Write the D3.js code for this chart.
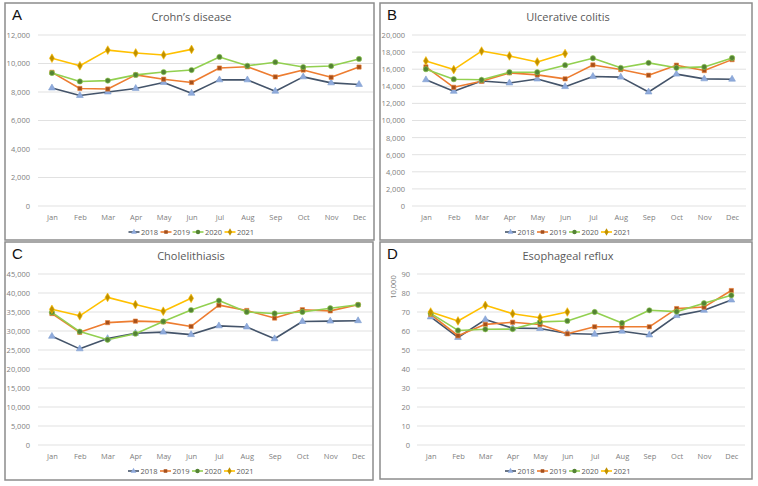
<!DOCTYPE html>
<html><head><meta charset="utf-8">
<script src="https://cdn.jsdelivr.net/npm/d3@7"></script>
<style>body{margin:0;background:#fff}svg{display:block}</style>
</head><body>
<svg id="c" width="758" height="486"></svg>
<script>
const months = ["Jan","Feb","Mar","Apr","May","Jun","Jul","Aug","Sep","Oct","Nov","Dec"];
const years = ["2018","2019","2020","2021"];

const crohn2018 = [8280,7750,8000,8250,8670,7910,8850,8850,8050,9060,8640,8530];
const crohn2019 = [9380,8250,8210,9200,8900,8670,9680,9770,9060,9540,9030,9750];
const crohn2020 = [9330,8740,8800,9200,9400,9540,10460,9840,10090,9750,9820,10320];
const crohn2021 = [10370,9840,10940,10740,10600,10990];

const uc2018 = [14760,13410,14620,14390,14850,13960,15150,15070,13330,15420,14870,14830];
const uc2019 = [16270,13880,14580,15570,15340,14870,16500,15960,15300,16470,15840,17120];
const uc2020 = [16000,14830,14760,15650,15650,16470,17280,16160,16740,16160,16270,17320];
const uc2021 = [16970,15960,18120,17550,16850,17830];

const chole2018 = [28600,25300,28000,29400,29700,29050,31350,31050,27950,32500,32600,32700];
const chole2019 = [34600,29650,32200,32600,32400,31200,36800,35400,33400,35600,35300,36900];
const chole2020 = [34900,29850,27700,29300,32500,35500,38000,35000,34600,35000,36000,36900];
const chole2021 = [35700,34000,38850,36950,35200,38600];

const reflux2018 = [67.4,56.6,66.0,61.5,61.3,58.7,58.3,59.9,57.9,68.1,70.9,76.3];
const reflux2019 = [68.8,57.5,63.5,64.6,63.4,58.5,62.2,62.2,62.2,71.8,72.6,81.3];
const reflux2020 = [69.3,60.3,60.9,61.0,64.8,65.3,70.0,64.2,70.9,70.2,74.6,78.8];
const reflux2021 = [70.0,65.3,73.5,69.1,67.0,70.0];

const panelLetters = ["A","B","C","D"];
const panelTitles = ["Crohn\u2019s disease","Ulcerative colitis","Cholelithiasis","Esophageal reflux"];
const yMax = [12000,20000,45000,90];
const yStep = [2000,2000,5000,10];
const panelData = [
  [crohn2018,crohn2019,crohn2020,crohn2021],
  [uc2018,uc2019,uc2020,uc2021],
  [chole2018,chole2019,chole2020,chole2021],
  [reflux2018,reflux2019,reflux2020,reflux2021]
];

// layout (positions only)
const layout = [
  {box:[5,3,369,237], plot:[38,35,373,206]},
  {box:[380,3,372,237], plot:[412,35,746,206]},
  {box:[5,242,368,238], plot:[38,274,372,445]},
  {box:[380,242,372,237], plot:[417,274,745,445]}
];
const lineColors = ["#44546A","#ED7D31","#92D050","#FFC000"];
const markColors = ["#8FAADC","#A5501C","#548235","#BF9000"];
const markTypes = [d3.symbolTriangle, d3.symbolSquare, d3.symbolCircle, d3.symbolDiamond];
const markSizes = [20,18,22,22];
const FONT = "'Open Sans', 'Noto Sans', sans-serif";

const svg = d3.select("#c");

panelData.forEach((series,i)=>{
  const L = layout[i];
  const g = svg.append("g");
  const [bx,by,bw,bh] = L.box;
  g.append("rect").attr("x",bx).attr("y",by).attr("width",bw).attr("height",bh)
    .attr("fill","#fff").attr("stroke","#8c8c8c").attr("stroke-width",1.5);
  const [x0,y0,x1,y1] = L.plot;
  const x = d3.scalePoint().domain(months).range([x0,x1]).padding(0.5);
  const y = d3.scaleLinear().domain([0,yMax[i]]).range([y1,y0]);
  const ticks = d3.range(0,yMax[i]+yStep[i]/2,yStep[i]);

  // gridlines
  g.append("g").selectAll("line").data(ticks).join("line")
    .attr("x1",x0).attr("x2",x1).attr("y1",d=>y(d)).attr("y2",d=>y(d))
    .attr("stroke","#d9d9d9").attr("stroke-width",0.8);

  // y axis labels
  const yAxis = d3.axisLeft(y).tickValues(ticks).tickSize(0).tickPadding(i%2===1? 7:8)
    .tickFormat(d3.format(","));
  const ya = g.append("g").attr("transform",`translate(${x0},0)`).call(yAxis);
  ya.select(".domain").remove();
  ya.selectAll("text").attr("font-family",FONT).attr("font-size",7.5).attr("fill","#808080");

  // x axis labels
  const xAxis = d3.axisBottom(x).tickSize(0).tickPadding(9);
  const xa = g.append("g").attr("transform",`translate(0,${y1})`).call(xAxis);
  xa.select(".domain").remove();
  xa.selectAll("text").attr("font-family",FONT).attr("font-size",7.5).attr("fill","#808080");

  // title & letter
  const cx = bx + bw/2 + 2;
  g.append("text").attr("x",cx).attr("y",by+18).attr("text-anchor","middle")
    .attr("font-family",FONT).attr("font-size",11).attr("fill","#595959").text(panelTitles[i]);
  g.append("text").attr("x",bx+7).attr("y",by+17)
    .attr("font-family","'Liberation Sans', Arial, sans-serif").attr("font-size",15).attr("fill","#111").text(panelLetters[i]);

  if(i===3){
    g.append("text").attr("transform",`translate(${bx+16},${y(80)-6}) rotate(-90)`)
      .attr("text-anchor","middle").attr("font-family",FONT).attr("font-size",7.5)
      .attr("fill","#808080").text("10,000");
  }

  // series
  const line = d3.line().x((d,k)=>x(months[k])).y(d=>y(d));
  series.forEach((vals,s)=>{
    g.append("path").datum(vals).attr("d",line).attr("fill","none")
      .attr("stroke",lineColors[s]).attr("stroke-width",1.6).attr("stroke-linejoin","round");
  });
  series.forEach((vals,s)=>{
    g.append("g").selectAll("path").data(vals).join("path")
      .attr("transform",(d,k)=>`translate(${x(months[k])},${y(d)})`)
      .attr("d",d3.symbol().type(markTypes[s]).size(markSizes[s]))
      .attr("fill",markColors[s]).attr("stroke",s===0?"#7F9FD0":lineColors[s]).attr("stroke-width",0.6);
  });

  // legend
  const legY = y1 + 26;
  const itemW = 32;
  const legX0 = cx - itemW*2 + 1;
  const lg = g.append("g");
  years.forEach((yr,s)=>{
    const lx = legX0 + s*itemW;
    lg.append("line").attr("x1",lx).attr("x2",lx+11).attr("y1",legY).attr("y2",legY)
      .attr("stroke",lineColors[s]).attr("stroke-width",1.6);
    lg.append("path").attr("transform",`translate(${lx+5.5},${legY})`)
      .attr("d",d3.symbol().type(markTypes[s]).size(markSizes[s]*0.7))
      .attr("fill",markColors[s]);
    lg.append("text").attr("x",lx+12.5).attr("y",legY+2.7)
      .attr("font-family",FONT).attr("font-size",7.5).attr("fill","#595959").text(yr);
  });
});
</script>
</body></html>
